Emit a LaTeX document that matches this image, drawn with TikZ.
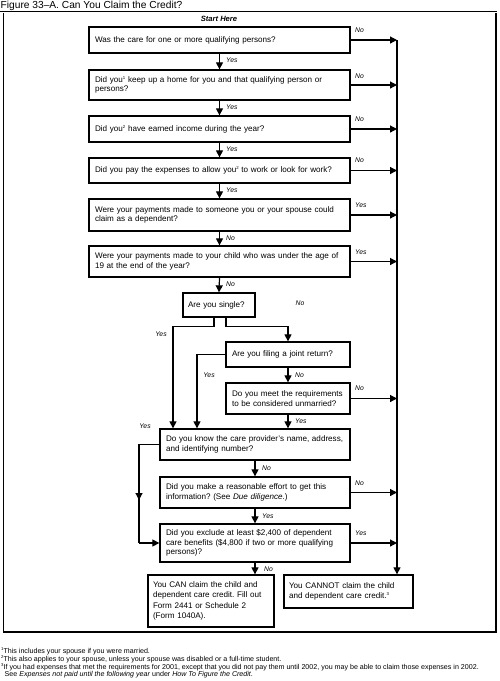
\documentclass[tikz,border=0pt]{standalone}
\usepackage{fontspec}
\setmainfont{Liberation Sans}
\usetikzlibrary{arrows.meta}
\frenchspacing
\newcommand{\supr}[1]{\raisebox{3pt}{\fontsize{4.3}{4.3}\selectfont #1}}
\tikzset{
  qbox/.style={draw, line width=1.3pt, inner sep=0pt, anchor=center, align=left,
    font=\fontsize{8.1}{9.5}\selectfont},
  endbox/.style={qbox, font=\fontsize{8.1}{10.3}\selectfont},
  flow/.style={line width=1.2pt, -{Triangle[width=7pt,length=7pt]}},
  plain/.style={line width=1.2pt},
  lbl/.style={font=\fontsize{6.8}{8}\selectfont\itshape, inner sep=0pt},
  foot/.style={font=\fontsize{7.1}{7}\selectfont, inner sep=0pt, anchor=west, align=left},
}
\begin{document}
\begin{tikzpicture}[x=1pt,y=-1pt]
\useasboundingbox (0,0) rectangle (499,681);
% title and frame
\node[inner sep=0pt, anchor=west, font=\fontsize{10.2}{11}\selectfont] (title) at (0.5,5.5) {Figure 33--A. Can You Claim the Credit?};
\coordinate (tl) at (0,11);
\coordinate (tr) at (497,11);
\draw[line width=0.9pt] (tl) -- (tr);
\coordinate (fa) at (3.5,13);
\coordinate (fb) at (3.5,632);
\coordinate (fc) at (496,632);
\coordinate (fd) at (496,13);
\draw[line width=1.8pt] (fa) -- (fb) -- (fc) -- (fd);

\node[inner sep=0pt, font=\fontsize{7.6}{8}\selectfont\bfseries\itshape] (start) at (219,19) {Start Here};

% main boxes
\node[qbox, minimum width=261pt, minimum height=26pt, text width=249pt] (b1) at (219.5,40) {Was the care for one or more qualifying persons?};
\node[qbox, minimum width=261pt, minimum height=30pt, text width=249pt] (b2) at (219.5,85) {Did you\supr{1} keep up a home for you and that qualifying person or\\persons?};
\node[qbox, minimum width=261pt, minimum height=26pt, text width=249pt] (b3) at (219.5,129) {Did you\supr{2} have earned income during the year?};
\node[qbox, minimum width=261pt, minimum height=25pt, text width=249pt] (b4) at (219.5,170.5) {Did you pay the expenses to allow you\supr{2} to work or look for work?};
\node[qbox, minimum width=261pt, minimum height=32pt, text width=249pt] (b5) at (219.5,215) {Were your payments made to someone you or your spouse could\\claim as a dependent?};
\node[qbox, minimum width=261pt, minimum height=31pt, text width=249pt] (b6) at (219.5,261.5) {Were your payments made to your child who was under the age of\\19 at the end of the year?};
\node[qbox, minimum width=72pt, minimum height=24pt, text width=62pt] (single) at (219,305) {Are you single?};
\node[qbox, minimum width=124pt, minimum height=25pt, text width=112pt] (joint) at (288,354.5) {Are you filing a joint return?};
\node[qbox, minimum width=124pt, minimum height=31pt, text width=112pt] (unm) at (288,398.5) {Do you meet the requirements\\to be considered unmarried?};
\node[qbox, minimum width=190pt, minimum height=31pt, text width=178pt] (b7) at (255,444.5) {Do you know the care provider's name, address,\\and identifying number?};
\node[qbox, minimum width=190pt, minimum height=31pt, text width=178pt] (b8) at (255,492.5) {Did you make a reasonable effort to get this\\information? (See \textit{Due diligence}.)};
\node[qbox, minimum width=190pt, minimum height=38pt, text width=178pt] (b9) at (255,543) {Did you exclude at least \$2,400 of dependent\\care benefits (\$4,800 if two or more qualifying\\persons)?};
\node[endbox, minimum width=126pt, minimum height=52pt, text width=116pt] (can) at (211,601) {You CAN claim the child and\\dependent care credit. Fill out\\Form 2441 or Schedule 2\\(Form 1040A).};
\node[endbox, minimum width=129pt, minimum height=33pt, text width=119pt] (cannot) at (348.5,591.5) {You CANNOT claim the child\\and dependent care credit.\supr{3}};

% main downward arrows
\draw[flow] (b1.south) -- (b2.north);
\draw[flow] (b2.south) -- (b3.north);
\draw[flow] (b3.south) -- (b4.north);
\draw[flow] (b4.south) -- (b5.north);
\draw[flow] (b5.south) -- (b6.north);
\draw[flow] (b6.south) -- (single.north);
\node[lbl, anchor=west] (l1) at (226,60.5) {Yes};
\node[lbl, anchor=west] (l2) at (226,107.5) {Yes};
\node[lbl, anchor=west] (l3) at (226,149.5) {Yes};
\node[lbl, anchor=west] (l4) at (226,190.5) {Yes};
\node[lbl, anchor=west] (l5) at (226,238) {No};
\node[lbl, anchor=west] (l6) at (226,284.5) {No};

% single branches
\draw[flow] ([xshift=-5pt]single.south) -- ++(0,9) -| ([xshift=-82pt]b7.north);
\draw[flow] ([xshift=7pt]single.south) -- ++(0,9) -| (joint.north);
\node[lbl] (ls1) at (161,334) {Yes};
\node[lbl] (ls2) at (300,303) {No};
\draw[flow] (joint.west) -| ([xshift=-58pt]b7.north);
\node[lbl] (lj1) at (209,375) {Yes};
\draw[flow] (joint.south) -- (unm.north);
\node[lbl, anchor=west] (lj2) at (295,375) {No};
\draw[flow] (unm.south) -- ([xshift=33pt]b7.north);
\node[lbl, anchor=west] (lu1) at (295,421) {Yes};

% yes loop of box 7
\coordinate (lp) at (139,444.5);
\coordinate (lm) at (139,500);
\coordinate (lq) at (139,543);
\draw[plain] (b7.west) -- (lp) -- (lq);
\draw[flow] (lp) -- (lm);
\draw[flow] (lq) -- (b9.west);
\node[lbl] (l7y) at (145,426) {Yes};

\draw[flow] (b7.south) -- (b8.north);
\node[lbl, anchor=west] (l7n) at (262,468.5) {No};
\draw[flow] (b8.south) -- (b9.north);
\node[lbl, anchor=west] (l8y) at (262,516) {Yes};
\draw[flow] (b9.south) -- (b9.south |- can.north);
\node[lbl, anchor=west] (l9n) at (264,569) {No};

% right collector line
\coordinate (vt) at (397,40);
\draw[flow] (vt) -- (vt |- cannot.north);
\foreach \b in {b1,b2,b3,b4,b5,b6,unm,b8,b9}{
  \draw[flow] (\b.east) -- (\b.east -| vt);
}
\node[lbl, anchor=west] (r1) at (355,30) {No};
\node[lbl, anchor=west] (r2) at (355,76) {No};
\node[lbl, anchor=west] (r3) at (355,119.5) {No};
\node[lbl, anchor=west] (r4) at (355,160) {No};
\node[lbl, anchor=west] (r5) at (355,205.5) {Yes};
\node[lbl, anchor=west] (r6) at (355,252) {Yes};
\node[lbl, anchor=west] (ru) at (355,388) {No};
\node[lbl, anchor=west] (r8) at (355,483) {No};
\node[lbl, anchor=west] (r9) at (355,533) {Yes};

% footnotes
\node[foot] (f1) at (1,651) {\supr{1}This includes your spouse if you were married.};
\node[foot] (f2) at (1,659) {\supr{2}This also applies to your spouse, unless your spouse was disabled or a full-time student.};
\node[foot] (f3) at (1,667) {\supr{3}If you had expenses that met the requirements for 2001, except that you did not pay them until 2002, you may be able to claim those expenses in 2002.};
\node[foot] (f4) at (4.5,675) {See \textit{Expenses not paid until the following year} under \textit{How To Figure the Credit}.};
\end{tikzpicture}
\end{document}
